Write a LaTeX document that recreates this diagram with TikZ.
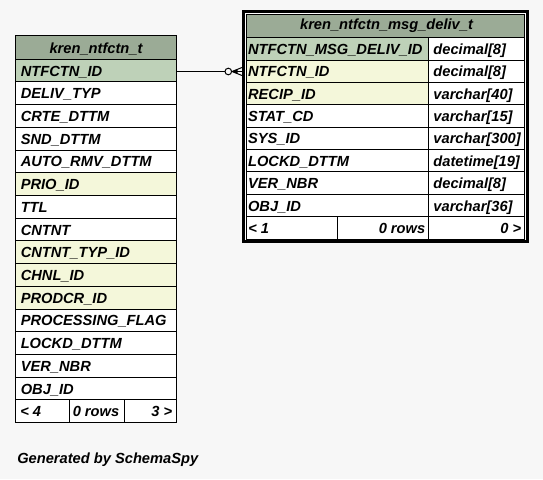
\documentclass[tikz,border=0pt]{standalone}
\usepackage{fontspec}
\setmainfont{Liberation Sans}
\definecolor{bgc}{HTML}{F7F7F7}
\definecolor{headc}{HTML}{9BAB96}
\definecolor{pkc}{HTML}{BED1B8}
\definecolor{idxc}{HTML}{F4F7DA}
\tikzset{
  cellbox/.style={draw=black, line width=0.75pt},
  txt/.style={anchor=base west, inner sep=0pt, font=\fontsize{11}{13}\selectfont\bfseries\itshape},
  txtr/.style={anchor=base east, inner sep=0pt, font=\fontsize{11}{13}\selectfont\bfseries\itshape},
  txtc/.style={anchor=base, inner sep=0pt, font=\fontsize{11}{13}\selectfont\bfseries\itshape},
  rel/.style={draw=black, line width=0.75pt},
}
\begin{document}
\begin{tikzpicture}[x=0.75pt,y=-0.75pt]
\fill[bgc] (0,0) rectangle (543,479);
\useasboundingbox (0,0) rectangle (543,479);

% ---------------- left table: kren_ntfctn_t ----------------
\def\LxA{15.5}\def\LxB{176.5}\def\LyH{35.5}\def\LyA{59.2}\def\Lh{22.71}
\fill[headc] (\LxA,\LyH) rectangle (\LxB,\LyA);
\draw[cellbox] (\LxA,\LyH) rectangle (\LxB,\LyA);
\node[txtc] (lhead) at ({(\LxA+\LxB)/2},{\LyH+17.8}) {kren\_ntfctn\_t};
\foreach \i/\name/\col in {
  1/NTFCTN\_ID/pkc, 2/DELIV\_TYP/white, 3/CRTE\_DTTM/white, 4/SND\_DTTM/white,
  5/AUTO\_RMV\_DTTM/white, 6/PRIO\_ID/idxc, 7/TTL/white, 8/CNTNT/white,
  9/CNTNT\_TYP\_ID/idxc, 10/CHNL\_ID/idxc, 11/PRODCR\_ID/idxc,
  12/PROCESSING\_FLAG/white, 13/LOCKD\_DTTM/white, 14/VER\_NBR/white, 15/OBJ\_ID/white}{
  \pgfmathsetmacro\ya{\LyA+(\i-1)*\Lh}
  \pgfmathsetmacro\yb{\LyA+\i*\Lh}
  \fill[\col] (\LxA,\ya) rectangle (\LxB,\yb);
  \draw[cellbox] (\LxA,\ya) rectangle (\LxB,\yb);
  \node[txt] (lcol\i) at (20.5,{(\ya+\yb)/2+5.5}) {\name};
}
\pgfmathsetmacro\fya{\LyA+15*\Lh}
\pgfmathsetmacro\fyb{\LyA+16*\Lh}
\fill[white] (\LxA,\fya) rectangle (\LxB,\fyb);
\draw[cellbox] (\LxA,\fya) rectangle (69,\fyb);
\draw[cellbox] (69,\fya) rectangle (124,\fyb);
\draw[cellbox] (124,\fya) rectangle (\LxB,\fyb);
\node[txt]  (lfoot1) at (20,{(\fya+\fyb)/2+5.5}) {< 4};
\node[txt]  (lfoot2) at (72.5,{(\fya+\fyb)/2+5.5}) {0 rows};
\node[txtr] (lfoot3) at (172.5,{(\fya+\fyb)/2+5.5}) {3 >};

% ---------------- right table: kren_ntfctn_msg_deliv_t ----------------
\def\RxA{246.5}\def\RxM{428.5}\def\RxB{524.5}\def\RyH{14.5}\def\RyA{37.8}\def\Rh{22.36}
\fill[white] (243.5,11.5) rectangle (527.5,241.5);
\fill[headc] (\RxA,\RyH) rectangle (\RxB,\RyA);
\draw[cellbox] (\RxA,\RyH) rectangle (\RxB,\RyA);
\node[txtc] (rhead) at ({(\RxA+\RxB)/2+1},{\RyH+15}) {kren\_ntfctn\_msg\_deliv\_t};
\foreach \i/\name/\typ/\col in {
  1/NTFCTN\_MSG\_DELIV\_ID/decimal[8]/pkc, 2/NTFCTN\_ID/decimal[8]/idxc,
  3/RECIP\_ID/varchar[40]/idxc, 4/STAT\_CD/varchar[15]/white,
  5/SYS\_ID/varchar[300]/white, 6/LOCKD\_DTTM/datetime[19]/white,
  7/VER\_NBR/decimal[8]/white, 8/OBJ\_ID/varchar[36]/white}{
  \pgfmathsetmacro\ya{\RyA+(\i-1)*\Rh}
  \pgfmathsetmacro\yb{\RyA+\i*\Rh}
  \fill[\col] (\RxA,\ya) rectangle (\RxM,\yb);
  \draw[cellbox] (\RxA,\ya) rectangle (\RxM,\yb);
  \draw[cellbox] (\RxM,\ya) rectangle (\RxB,\yb);
  \node[txt] (rcol\i) at (247.8,{(\ya+\yb)/2+5.5}) {\name};
  \node[txt] (rtyp\i) at (433.2,{(\ya+\yb)/2+5.5}) {\typ};
}
\pgfmathsetmacro\gya{\RyA+8*\Rh}
\pgfmathsetmacro\gyb{\RyA+9*\Rh}
\draw[cellbox] (\RxA,\gya) rectangle (337,\gyb);
\draw[cellbox] (337,\gya) rectangle (\RxM,\gyb);
\draw[cellbox] (\RxM,\gya) rectangle (\RxB,\gyb);
\node[txt]  (rfoot1) at (248,{(\gya+\gyb)/2+5.5}) {< 1};
\node[txtr] (rfoot2) at (425.5,{(\gya+\gyb)/2+5.5}) {0 rows};
\node[txtr] (rfoot3) at (521.5,{(\gya+\gyb)/2+5.5}) {0 >};
\draw[black, line width=2.4pt] (243.5,11.5) rectangle (527.4,241.6);

% ---------------- relationship ----------------
\coordinate (relA) at (176.5,71.5);
\coordinate (relB) at (242,71.5);
\coordinate (relC) at (228.3,71.5);
\coordinate (relT) at (232,71.5);
\draw[rel] (relA) -- ([xshift=-3.3*0.75pt]relC);
\draw[rel] (relC) circle [radius=3.3];
\draw[rel] (relT) -- (relB);
\draw[rel] (relT) -- (242,67.5);
\draw[rel] (relT) -- (242,75.5);
\fill[black] (relT) -- (237.5,69.2) -- (237.5,73.8) -- cycle;

% ---------------- footer text ----------------
\node[txt] (gen) at (17,463.5) {Generated by SchemaSpy};
\end{tikzpicture}
\end{document}
